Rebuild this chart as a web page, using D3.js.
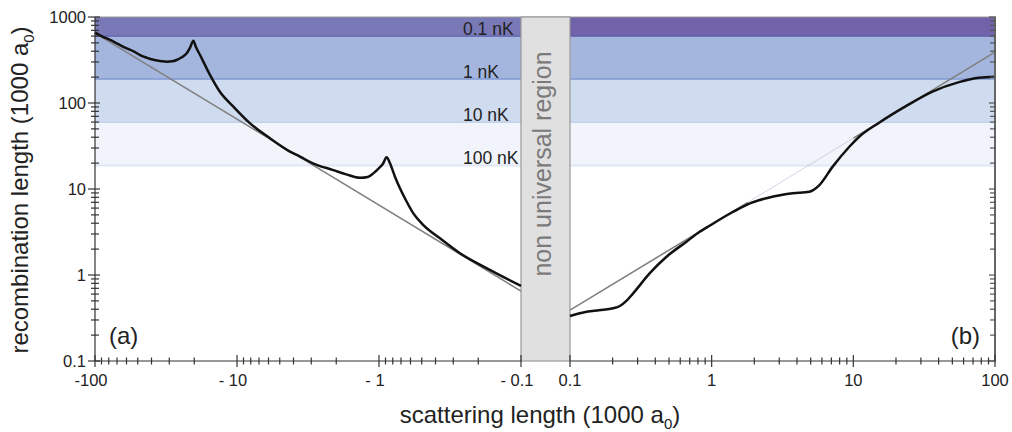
<!DOCTYPE html>
<html>
<head>
<meta charset="utf-8">
<script src="https://cdn.jsdelivr.net/npm/d3@7"></script>
<style>
  body { margin: 0; background: #fff; }
  text { font-family: "Liberation Sans", Arial, sans-serif; }
</style>
</head>
<body>
<div id="chart"></div>
<script>
// recombination length vs scattering length, (a) negative side, (b) positive side
const negA = [-100, -90, -78.3, -68, -59.8, -53, -48.2, -43, -38.8, -34, -31.3, -28.5, -26.6, -24.5, -22.6, -21.4, -20.3,
  -19.5, -18.2, -15.5, -13.2, -10.6, -8.09, -5.86, -4.24, -3.6, -2.92, -2.1, -1.7, -1.36, -1.2, -1.097, -1.0,
  -0.94, -0.883, -0.837, -0.772, -0.712, -0.638, -0.573, -0.487, -0.372, -0.269, -0.175, -0.1];
const negL = [660, 600, 541, 480, 432, 395, 361, 335, 318, 306, 302, 305, 316, 340, 378, 440, 530,
  450, 361, 212, 135, 90.6, 58, 38.9, 27.2, 23.8, 19.9, 16.6, 14.8, 13.5, 13.8, 15.2, 17.5,
  19.5, 23.4, 19.9, 13.9, 10.2, 7.11, 5.21, 3.81, 2.67, 1.79, 1.2, 0.745];

const posA = [0.1, 0.131, 0.16, 0.202, 0.225, 0.25, 0.279, 0.366, 0.48, 0.664, 0.823, 0.918, 1.41, 1.9,
  2.43, 3.1, 3.74, 4.9, 5.76, 7.15, 9.37, 11, 15.2, 23.5, 36.2, 55.7, 77.1, 100];
const posL = [0.333, 0.374, 0.39, 0.41, 0.436, 0.5, 0.612, 1.05, 1.63, 2.44, 3.18, 3.55, 5.4, 6.9,
  7.8, 8.5, 8.91, 9.31, 11.1, 18.2, 31, 40.5, 59, 92, 136, 175, 197, 202];

// universal (grey) asymptotes
const asymNegA = [-100, -0.1];
const asymNegL = [650, 0.65];
const asymPosA = [0.1, 1.8, 10, 100];
const asymPosL = [0.39, 7.0, 39, 390];

// temperature bands
const bandEdges = [1000, 590, 187, 59, 18.7];
const bandLabels = ["0.1 nK", "1 nK", "10 nK", "100 nK"];
const bandFill = ["#7a79b7", "#a4b6dd", "#cfdbee", "#f1f4fa"];
const bandFillRight = ["#7163aa", "#a4b6dd", "#cfdbee", "#f1f4fa"];
const bandEdgeColor = ["#5456a6", "#6f8ccc", "#b2c6e6", "#dfe8f4"];

const yTicks = [0.1, 1, 10, 100, 1000];
const yTickLabels = ["0.1", "1", "10", "100", "1000"];
const xNegTicks = [-100, -10, -1, -0.1];
const xNegLabels = ["-100", "- 10", "- 1", "- 0.1"];
const xPosTicks = [0.1, 1, 10, 100];
const xPosLabels = ["0.1", "1", "10", "100"];

const width = 1012, height = 432;
const plotLeft = 95, plotRight = 995, plotTop = 17, plotBottom = 361;
const gapL = 521, gapR = 570;

const svg = d3.select("#chart").append("svg")
  .attr("width", width)
  .attr("height", height);

const y = d3.scaleLog().domain([0.1, 1000]).range([plotBottom, plotTop]);
const xNeg = d3.scaleLog().domain([-100, -0.1]).range([plotLeft, gapL]);
const xPos = d3.scaleLog().domain([0.1, 100]).range([gapR, plotRight]);

// bands
const bands = svg.append("g");
bandLabels.forEach((lab, i) => {
  const y0 = y(bandEdges[i]), y1 = y(bandEdges[i + 1]);
  bands.append("rect").attr("x", plotLeft).attr("y", y0).attr("width", gapL - plotLeft).attr("height", y1 - y0)
    .attr("fill", bandFill[i]);
  bands.append("rect").attr("x", gapR).attr("y", y0).attr("width", plotRight - gapR).attr("height", y1 - y0)
    .attr("fill", bandFillRight[i]);
  [[plotLeft, gapL], [gapR, plotRight]].forEach(([a, b]) => {
    bands.append("line").attr("x1", a).attr("x2", b).attr("y1", y1).attr("y2", y1)
      .attr("stroke", bandEdgeColor[i]).attr("stroke-width", 2);
  });
  bands.append("text")
    .attr("x", 463).attr("y", y1 - 2)
    .attr("font-size", 17.5).attr("fill", "#222")
    .text(lab);
});
bands.append("line").attr("x1", plotLeft).attr("x2", plotRight).attr("y1", plotTop).attr("y2", plotTop)
  .attr("stroke", "#999").attr("stroke-width", 1);

// non universal region
svg.append("rect")
  .attr("x", gapL).attr("y", plotTop).attr("width", gapR - gapL).attr("height", plotBottom - plotTop)
  .attr("fill", "#e0e0e0").attr("stroke", "#999").attr("stroke-width", 1.2);
svg.append("text")
  .attr("transform", `translate(551,164) rotate(-90)`)
  .attr("text-anchor", "middle")
  .attr("font-size", 25).attr("fill", "#7a7a7a")
  .text("non universal region");

// asymptotes
const lineNeg = d3.line().x(d => xNeg(d[0])).y(d => y(d[1]));
const linePos = d3.line().x(d => xPos(d[0])).y(d => y(d[1]));

svg.append("path")
  .attr("d", lineNeg(d3.zip(asymNegA, asymNegL)))
  .attr("fill", "none").attr("stroke", "#808080").attr("stroke-width", 1.6);
const asymPos = d3.zip(asymPosA, asymPosL);
svg.append("path")
  .attr("d", linePos(asymPos.slice(0, 2)))
  .attr("fill", "none").attr("stroke", "#808080").attr("stroke-width", 1.6);
svg.append("path")
  .attr("d", linePos(asymPos.slice(1, 3)))
  .attr("fill", "none").attr("stroke", "#9a98c8").attr("stroke-width", 0.7).attr("opacity", 0.6);
svg.append("path")
  .attr("d", linePos(asymPos.slice(2, 4)))
  .attr("fill", "none").attr("stroke", "#808080").attr("stroke-width", 1.6);

// recombination curves
svg.append("path")
  .attr("d", lineNeg.curve(d3.curveMonotoneX)(d3.zip(negA, negL)))
  .attr("fill", "none").attr("stroke", "#111").attr("stroke-width", 2.5);
svg.append("path")
  .attr("d", linePos.curve(d3.curveMonotoneX)(d3.zip(posA, posL)))
  .attr("fill", "none").attr("stroke", "#111").attr("stroke-width", 2.5);

// axes
const axes = svg.append("g").attr("stroke", "#333").attr("stroke-width", 1.2);
axes.append("line").attr("x1", plotLeft).attr("x2", plotLeft).attr("y1", plotTop).attr("y2", plotBottom);
axes.append("line").attr("x1", plotLeft).attr("x2", gapL).attr("y1", plotBottom).attr("y2", plotBottom);
axes.append("line").attr("x1", gapR).attr("x2", plotRight).attr("y1", plotBottom).attr("y2", plotBottom);
axes.append("line").attr("x1", plotRight).attr("x2", plotRight).attr("y1", plotTop).attr("y2", plotBottom)
  .attr("stroke", "#666").attr("stroke-width", 2);

const isMajor = v => Math.abs(Math.log10(Math.abs(v)) - Math.round(Math.log10(Math.abs(v)))) < 1e-6;

y.ticks().forEach(t => {
  const m = isMajor(t);
  axes.append("line").attr("x1", plotLeft - (m ? 7 : 4)).attr("x2", plotLeft + (m ? 5 : 4))
    .attr("y1", y(t)).attr("y2", y(t));
  axes.append("line").attr("x1", plotRight - (m ? 6 : 5)).attr("x2", plotRight + 1)
    .attr("y1", y(t)).attr("y2", y(t)).attr("stroke", "#555");
});
xNeg.ticks().forEach(t => {
  const m = isMajor(t);
  axes.append("line").attr("x1", xNeg(t)).attr("x2", xNeg(t))
    .attr("y1", plotBottom - (m ? 6 : 3.5)).attr("y2", plotBottom + (m ? 6 : 3.5));
});
xPos.ticks().forEach(t => {
  const m = isMajor(t);
  axes.append("line").attr("x1", xPos(t)).attr("x2", xPos(t))
    .attr("y1", plotBottom - (m ? 6 : 3.5)).attr("y2", plotBottom + (m ? 6 : 3.5));
});

// tick labels
const labels = svg.append("g").attr("font-size", 16.5).attr("fill", "#222");
yTicks.forEach((t, i) => {
  labels.append("text").attr("x", plotLeft - 9).attr("y", y(t)).attr("dy", "0.36em")
    .attr("text-anchor", "end").text(yTickLabels[i]);
});
xNegTicks.forEach((t, i) => {
  labels.append("text").attr("x", xNeg(t) - 4).attr("y", 386)
    .attr("text-anchor", "middle").text(xNegLabels[i]);
});
xPosTicks.forEach((t, i) => {
  labels.append("text").attr("x", xPos(t)).attr("y", 386)
    .attr("text-anchor", "middle").text(xPosLabels[i]);
});

// panel labels
svg.append("text").attr("x", 109).attr("y", 344).attr("font-size", 24).attr("fill", "#222").text("(a)");
svg.append("text").attr("x", 980).attr("y", 344).attr("font-size", 24).attr("fill", "#222")
  .attr("text-anchor", "end").text("(b)");

// axis titles
const xt = svg.append("text").attr("x", 540).attr("y", 423).attr("text-anchor", "middle")
  .attr("font-size", 24).attr("fill", "#222");
xt.append("tspan").text("scattering length (1000 a");
xt.append("tspan").attr("font-size", 15).attr("dy", 6).text("0");
xt.append("tspan").attr("dy", -6).text(")");

const yt = svg.append("text").attr("transform", `translate(28,190) rotate(-90)`)
  .attr("text-anchor", "middle").attr("font-size", 24).attr("fill", "#222");
yt.append("tspan").text("recombination length (1000 a");
yt.append("tspan").attr("font-size", 15).attr("dy", 6).text("0");
yt.append("tspan").attr("dy", -6).text(")");
</script>
</body>
</html>
